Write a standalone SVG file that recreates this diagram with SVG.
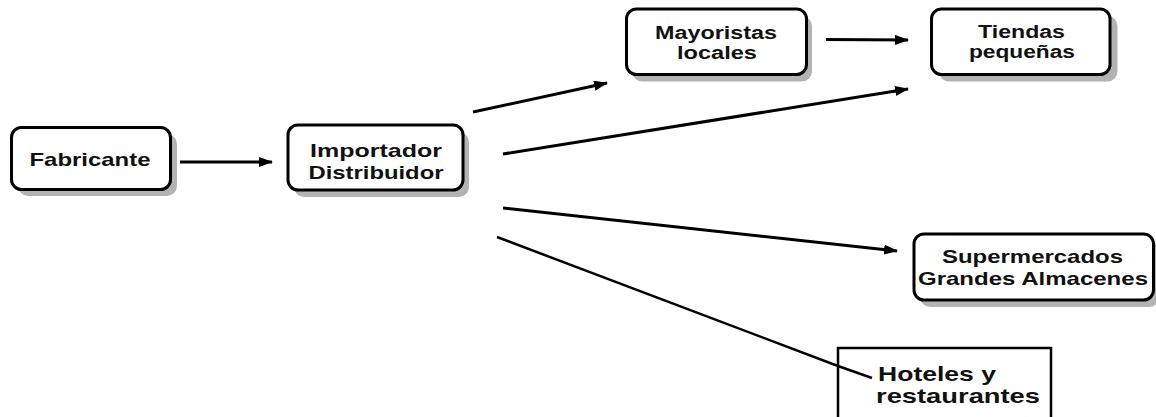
<svg xmlns="http://www.w3.org/2000/svg" width="1156" height="417" viewBox="0 0 1156 417">
<defs>
<marker id="ah" viewBox="0 0 14 10" refX="13" refY="5" markerWidth="14" markerHeight="10" markerUnits="userSpaceOnUse" orient="auto">
<path d="M0,0 L14,5 L0,10 Z" fill="#000"/>
</marker>
</defs>
<style>
.box{fill:#fff;stroke:#000;stroke-width:3}
.sh{fill:#b3b3b3;stroke:none}
.t{font-family:"Liberation Sans",Arial,sans-serif;font-weight:bold;font-size:19px;fill:#111}
.s{font-size:18px}
.c{text-anchor:middle}
.ln{stroke:#000;stroke-width:3;fill:none}
.arr{marker-end:url(#ah)}
</style>
<rect width="1156" height="417" fill="#fff"/>
<g id="connectors">
<line class="ln arr" x1="180" y1="162" x2="272" y2="162"/>
<line class="ln arr" x1="473" y1="112" x2="607" y2="83"/>
<line class="ln arr" x1="826" y1="39.5" x2="908" y2="40"/>
<line class="ln arr" x1="503" y1="154" x2="908" y2="89"/>
<line class="ln arr" x1="503" y1="208" x2="897" y2="251"/>
</g>
<g id="fabricante">
<rect class="sh" x="18" y="134" width="159" height="62" rx="10"/>
<rect class="box" x="11.5" y="127.5" width="159" height="62" rx="10"/>
<text class="t c" x="90" y="166" textLength="121" lengthAdjust="spacingAndGlyphs">Fabricante</text>
</g>
<g id="importador">
<rect class="sh" x="294" y="132" width="175" height="65" rx="10"/>
<rect class="box" x="288" y="125" width="175" height="65" rx="10"/>
<text class="t c" x="376" y="157" textLength="132" lengthAdjust="spacingAndGlyphs">Importador</text>
<text class="t c" x="376" y="179" textLength="135" lengthAdjust="spacingAndGlyphs">Distribuidor</text>
</g>
<g id="mayoristas">
<rect class="sh" x="632" y="16" width="180" height="65.5" rx="10"/>
<rect class="box" x="626.5" y="9" width="180" height="65.5" rx="10"/>
<text class="t s c" x="716" y="39" textLength="122" lengthAdjust="spacingAndGlyphs">Mayoristas</text>
<text class="t s c" x="717" y="59" textLength="80" lengthAdjust="spacingAndGlyphs">locales</text>
</g>
<g id="tiendas">
<rect class="sh" x="939" y="16" width="178.5" height="65.5" rx="10"/>
<rect class="box" x="931.5" y="9" width="178.5" height="65.5" rx="10"/>
<text class="t s c" x="1021.5" y="38" textLength="87" lengthAdjust="spacingAndGlyphs">Tiendas</text>
<text class="t s c" x="1022" y="58" textLength="106" lengthAdjust="spacingAndGlyphs">pequeñas</text>
</g>
<g id="supermercados">
<rect class="sh" x="920" y="241" width="239.5" height="66" rx="10"/>
<rect class="box" x="914" y="234" width="239.5" height="66" rx="10"/>
<text class="t c" x="1032.5" y="263" textLength="181" lengthAdjust="spacingAndGlyphs">Supermercados</text>
<text class="t c" x="1033" y="285" textLength="230" lengthAdjust="spacingAndGlyphs">Grandes Almacenes</text>
</g>
<g id="hoteles">
<rect x="838" y="348" width="213" height="80" fill="#fff" stroke="#000" stroke-width="2.5"/>
<text class="t" x="878" y="381" style="font-size:21px" textLength="118" lengthAdjust="spacingAndGlyphs">Hoteles y</text>
<text class="t" x="876" y="403" style="font-size:21px" textLength="164" lengthAdjust="spacingAndGlyphs">restaurantes</text>
</g>
<g id="connector-hoteles">
<polyline class="ln" style="stroke-width:2.5" points="497,237 838,366 872,378"/>
</g>
</svg>
